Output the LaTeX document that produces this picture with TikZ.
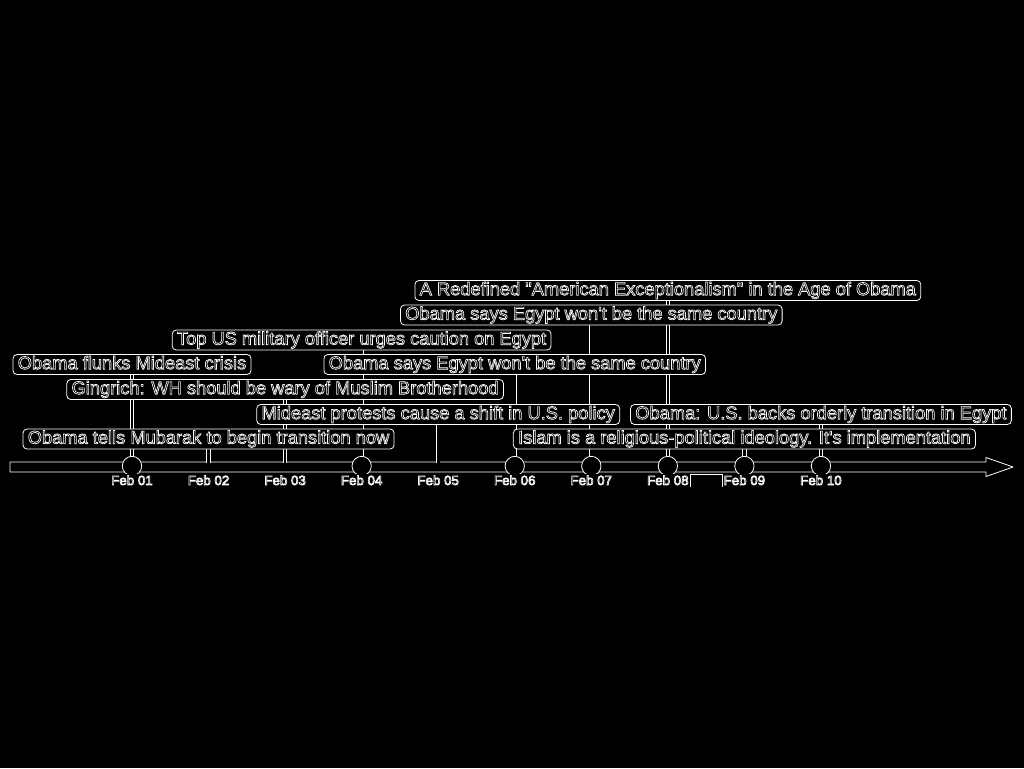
\documentclass[tikz,border=0pt]{standalone}
\usepackage{fontspec}
\newfontfamily\tlfont{Liberation Sans}
\newcommand\olt[1]{\special{pdf:literal direct 1 Tr 0.5 w}#1\special{pdf:literal direct 0 Tr}}
\begin{document}
\begin{tikzpicture}[x=0.75pt,y=-0.75pt,
  edge/.style={draw=white,line width=0.6pt},
  evbox/.style={draw=white,line width=0.6pt,fill=black,rounded corners=3pt,
    text=white,font=\tlfont\fontsize{13.7pt}{15pt}\selectfont,
    text height=10pt,text depth=3pt,inner xsep=3.6pt,inner ysep=1pt},
  conn/.style={draw=white,line width=0.6pt,double=black,double distance=2pt},
  dot/.style={draw=white,line width=0.6pt,fill=black,circle,minimum size=14.5pt,inner sep=0pt},
  datelbl/.style={text=white,fill=black,font=\tlfont\fontsize{10pt}{12pt}\selectfont,
    inner xsep=1pt,inner ysep=1pt,text height=7.5pt,text depth=0pt}
]
\fill[black] (0,0) rectangle (1024,768);
\useasboundingbox (0,0) rectangle (1024,768);
% date positions
\foreach \i in {1,...,10}{
  \coordinate (d\i) at ({132+76.55*(\i-1)},467);
  \coordinate (t\i) at ({132+76.55*(\i-1)},463);
}
% axis
\draw[edge,fill=black,line join=round] (10,462) -- (986,462) -- (986,457.5) -- (1013,467)
  -- (986,476.5) -- (986,472) -- (10,472) -- cycle;
% event box centres
\path
  (d8 |- 0,290.5)  coordinate (c1)
  (d7 |- 0,315)    coordinate (c2)
  (d4 |- 0,340)    coordinate (c3)
  (d1 |- 0,364.5)  coordinate (c4)
  (d6 |- 0,364.5)  coordinate (c5)
  (d3 |- 0,389.5)  coordinate (c6)
  (d5 |- 0,414.5)  coordinate (c7)
  (d10 |- 0,414.5) coordinate (c8)
  (d2 |- 0,439)    coordinate (c9)
  (d9 |- 0,439)    coordinate (c10);
% connectors
\draw[conn] (c1) -- (t8);
\draw[conn] (c2) -- (t7);
\draw[conn] (c3) -- (t4);
\draw[conn] (c4) -- (t1);
\draw[conn] (c5) -- (t6);
\draw[conn] (c6) -- (t3);
\draw[conn] (c7) -- (t5);
\draw[conn] (c8) -- (t10);
\draw[conn] (c9) -- (t2);
\draw[conn] (c10) -- (t9);
% dots
\foreach \i in {1,4,6,7,8,9,10}{
  \node[dot] (dot\i) at ([yshift=0.75pt]d\i) {};
}
% boxes
\node[evbox] (b1) at (c1) {\olt{A Redefined "American Exceptionalism" in the Age of Obama}};
\node[evbox] (b2) at (c2) {\olt{Obama says Egypt won't be the same country}};
\node[evbox] (b3) at (c3) {\olt{Top US military officer urges caution on Egypt}};
\node[evbox] (b4) at (c4) {\olt{Obama flunks Mideast crisis}};
\node[evbox] (b5) at (c5) {\olt{Obama says Egypt won't be the same country}};
\node[evbox] (b6) at (c6) {\olt{Gingrich: WH should be wary of Muslim Brotherhood}};
\node[evbox] (b7) at (c7) {\olt{Mideast protests cause a shift in U.S. policy}};
\node[evbox] (b8) at (c8) {\olt{Obama: U.S. backs orderly transition in Egypt}};
\node[evbox] (b9) at (c9) {\olt{Obama tells Mubarak to begin transition now}};
\node[evbox] (b10) at (c10) {\olt{Islam is a religious-political ideology. It's implementation}};
% date labels
\foreach \i/\lab in {1/Feb 01,2/Feb 02,3/Feb 03,4/Feb 04,5/Feb 05,6/Feb 06,7/Feb 07,8/Feb 08,9/Feb 09,10/Feb 10}{
  \node[datelbl] (l\i) at ([yshift=-9.75pt]d\i) {\olt{\lab}};
}
\draw[edge] (l8.south east) |- ([yshift=-0.5pt]l9.north west) -- (l9.south west);
\end{tikzpicture}
\end{document}
